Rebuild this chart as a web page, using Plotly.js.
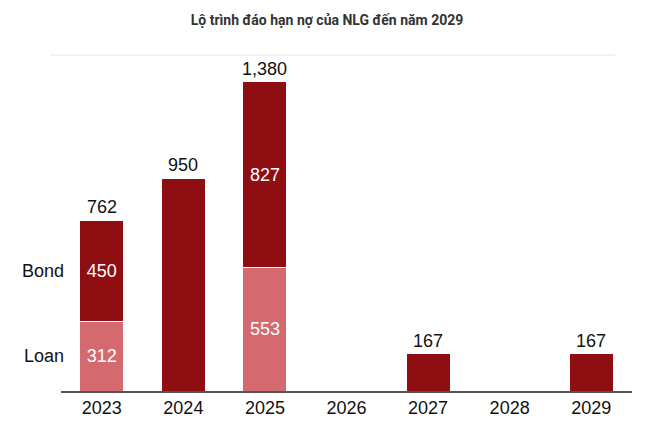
<!DOCTYPE html>
<html>
<head>
<meta charset="utf-8">
<script src="https://cdn.plot.ly/plotly-3.0.1.min.js"></script>
<style>
  html, body { margin: 0; padding: 0; background: #fff; }
  #chart { width: 654px; height: 438px; }
</style>
</head>
<body>
<div id="chart"></div>
<script>
const years = ["2023", "2024", "2025", "2026", "2027", "2028", "2029"];
const loan = [312, 0, 553, 0, 0, 0, 0];
const bond = [450, 950, 827, 0, 167, 0, 167];

const darkRed = "#8e0e12";
const lightRed = "#d4696f";
const labelFont = (color) => ({ family: "Liberation Sans, Arial", size: 18, color: color || "#111111" });

const totals = years.map((y, i) => loan[i] + bond[i]);
const fmt = (v) => v.toLocaleString("en-US");

const bondText = bond.map((v, i) => (loan[i] > 0 ? fmt(v) : ""));
const loanText = loan.map((v) => (v > 0 ? fmt(v) : ""));

// totals above each bar
const totalNotes = [];
years.forEach((y, i) => {
  if (totals[i] > 0) {
    totalNotes.push({
      text: fmt(totals[i]),
      x: i,
      y: totals[i],
      xref: "x",
      yref: "y",
      xanchor: "center",
      yanchor: "bottom",
      yshift: 1,
      showarrow: false,
      font: labelFont(),
    });
  }
});

Plotly.newPlot(
  "chart",
  [
    {
      name: "Loan",
      type: "bar",
      x: years,
      y: loan,
      text: loanText,
      textposition: "inside",
      insidetextanchor: "middle",
      textfont: labelFont("#ffffff"),
      marker: { color: lightRed, line: { color: "#ffffff", width: 1 } },
      hoverinfo: "x+y+name",
    },
    {
      name: "Bond",
      type: "bar",
      x: years,
      y: bond,
      text: bondText,
      textposition: "inside",
      insidetextanchor: "middle",
      textfont: labelFont("#ffffff"),
      marker: { color: darkRed, line: { color: "#ffffff", width: 1 } },
      hoverinfo: "x+y+name",
    },
  ],
  {
    width: 654,
    height: 438,
    barmode: "stack",
    bargap: 0.46,
    showlegend: false,
    margin: { l: 61, r: 22, t: 55, b: 47 },
    paper_bgcolor: "#ffffff",
    plot_bgcolor: "#ffffff",
    title: {
      text: "<b>Lộ trình đáo hạn nợ của NLG đến năm 2029</b>",
      font: { family: "Roboto, Arial", size: 14, color: "#333333" },
      x: 0.5,
      xanchor: "center",
      y: 1 - 20 / 438,
      yanchor: "middle",
      yref: "container",
    },
    xaxis: {
      type: "category",
      showgrid: false,
      zeroline: false,
      showline: true,
      linecolor: "#555555",
      linewidth: 1.5,
      ticks: "",
      tickfont: labelFont(),
      fixedrange: true,
    },
    yaxis: {
      range: [0, 1500],
      showgrid: false,
      zeroline: false,
      showline: false,
      showticklabels: false,
      ticks: "",
      fixedrange: true,
    },
    shapes: [
      {
        type: "line",
        xref: "paper",
        yref: "paper",
        x0: (50 - 61) / 571,
        x1: (615 - 61) / 571,
        y0: 1,
        y1: 1,
        line: { color: "#e6e6e6", width: 1 },
      },
    ],
    annotations: totalNotes.concat([
      {
        text: "Bond",
        xref: "paper",
        yref: "y",
        x: 0.008,
        y: loan[0] + bond[0] / 2,
        xanchor: "right",
        yanchor: "middle",
        showarrow: false,
        font: labelFont(),
      },
      {
        text: "Loan",
        xref: "paper",
        yref: "y",
        x: 0.008,
        y: loan[0] / 2,
        xanchor: "right",
        yanchor: "middle",
        showarrow: false,
        font: labelFont(),
      },
    ]),
  },
  { displayModeBar: false }
);
</script>
</body>
</html>
